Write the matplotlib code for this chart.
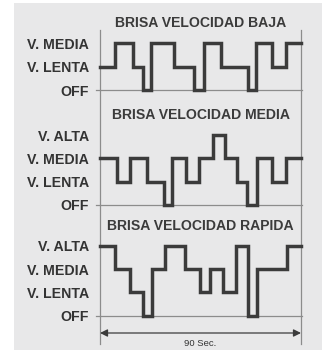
import matplotlib
matplotlib.use('Agg')
import matplotlib.pyplot as plt
from matplotlib.patches import Rectangle

plt.rcParams['font.family'] = ['Liberation Sans', 'DejaVu Sans']

# level names (0 = OFF ... 3 = V. ALTA)
level_names = ['OFF', 'V. LENTA', 'V. MEDIA', 'V. ALTA']

# panel titles
titles = ['BRISA VELOCIDAD BAJA', 'BRISA VELOCIDAD MEDIA', 'BRISA VELOCIDAD RAPIDA']

# switching times (s) and level held after each time, per panel
baja_t = [0, 6.7, 14.9, 19.4, 22.8, 33.1, 42.2, 46.7, 54.2, 66.1, 69.9, 76.9, 83.3, 90]
baja_v = [1, 2, 1, 0, 2, 1, 0, 2, 1, 0, 2, 1, 2, 2]

media_t = [0, 7.5, 13.4, 21.2, 28.7, 32.4, 38.7, 44.3, 50.5, 56.0, 61.5, 66.0, 70.2, 77.2, 83.3, 90]
media_v = [2, 1, 2, 1, 0, 2, 1, 2, 3, 2, 1, 0, 2, 1, 2, 2]

rapida_t = [0, 6.7, 13.4, 19.1, 23.2, 29.1, 38.1, 44.8, 49.3, 55.2, 60.8, 66.1, 70.2, 83.9, 90]
rapida_v = [3, 2, 1, 0, 2, 3, 2, 1, 2, 1, 3, 0, 2, 3, 3]

period = 90
period_label = '90 Sec.'

W, H = 322, 351
fig = plt.figure(figsize=(W / 100, H / 100), dpi=100)
fig.patch.set_facecolor('white')

# background overlay in pixel coordinates
bg = fig.add_axes([0, 0, 1, 1])
bg.set_xlim(0, W)
bg.set_ylim(H, 0)
bg.axis('off')
bg.add_patch(Rectangle((14, 3), W - 14, 347, facecolor='#e8e8e9', edgecolor='none'))
bg.plot([100, 100], [30, 344], color='#8c8c8c', lw=0.9)
bg.plot([301, 301], [30, 344], color='#8c8c8c', lw=0.9)

lw = 2.5
col = '#3b3b3b'
spacing = 23.3  # px per level
panels = [
    (baja_t, baja_v, 90.0, 3, 23),
    (media_t, media_v, 205.0, 4, 115),
    (rapida_t, rapida_v, 315.7, 4, 226),
]
x0, x1 = 100, 301
for (t, v, base, nlev, ty), title in zip(panels, titles):
    ax = fig.add_axes([x0 / W, (H - base) / H, (x1 - x0) / W, 3.5 * spacing / H])
    ax.patch.set_alpha(0)
    ax.set_xlim(0, period)
    ax.set_ylim(0, 3.5)
    for s in ax.spines.values():
        s.set_visible(False)
    ax.set_xticks([])
    ax.set_yticks(range(nlev))
    ax.set_yticklabels(level_names[:nlev], fontsize=10.2, fontweight='bold', color='#333333')
    ax.tick_params(axis='y', length=0, pad=7.8)
    ax.axhline(0, xmin=-0.02, xmax=1.005, color='#8c8c8c', lw=0.9, clip_on=False)
    ax.step(t, v, where='post', color=col, lw=lw, solid_joinstyle='miter', clip_on=False)
    fig.text((x0 + x1) / 2 / W, 1 - ty / H, title, ha='center', va='center',
             fontsize=10.1, fontweight='bold', color='#3b3b3b')

# 90 s dimension arrow
bg.annotate('', xy=(301, 333), xytext=(100, 333),
            arrowprops=dict(arrowstyle='<|-|>', color='#3b3b3b', lw=0.9,
                            mutation_scale=11, shrinkA=0, shrinkB=0))
bg.text(200, 343.5, period_label, ha='center', va='center', fontsize=6.8, color='#333333')

fig.savefig('out.png', dpi=100)
